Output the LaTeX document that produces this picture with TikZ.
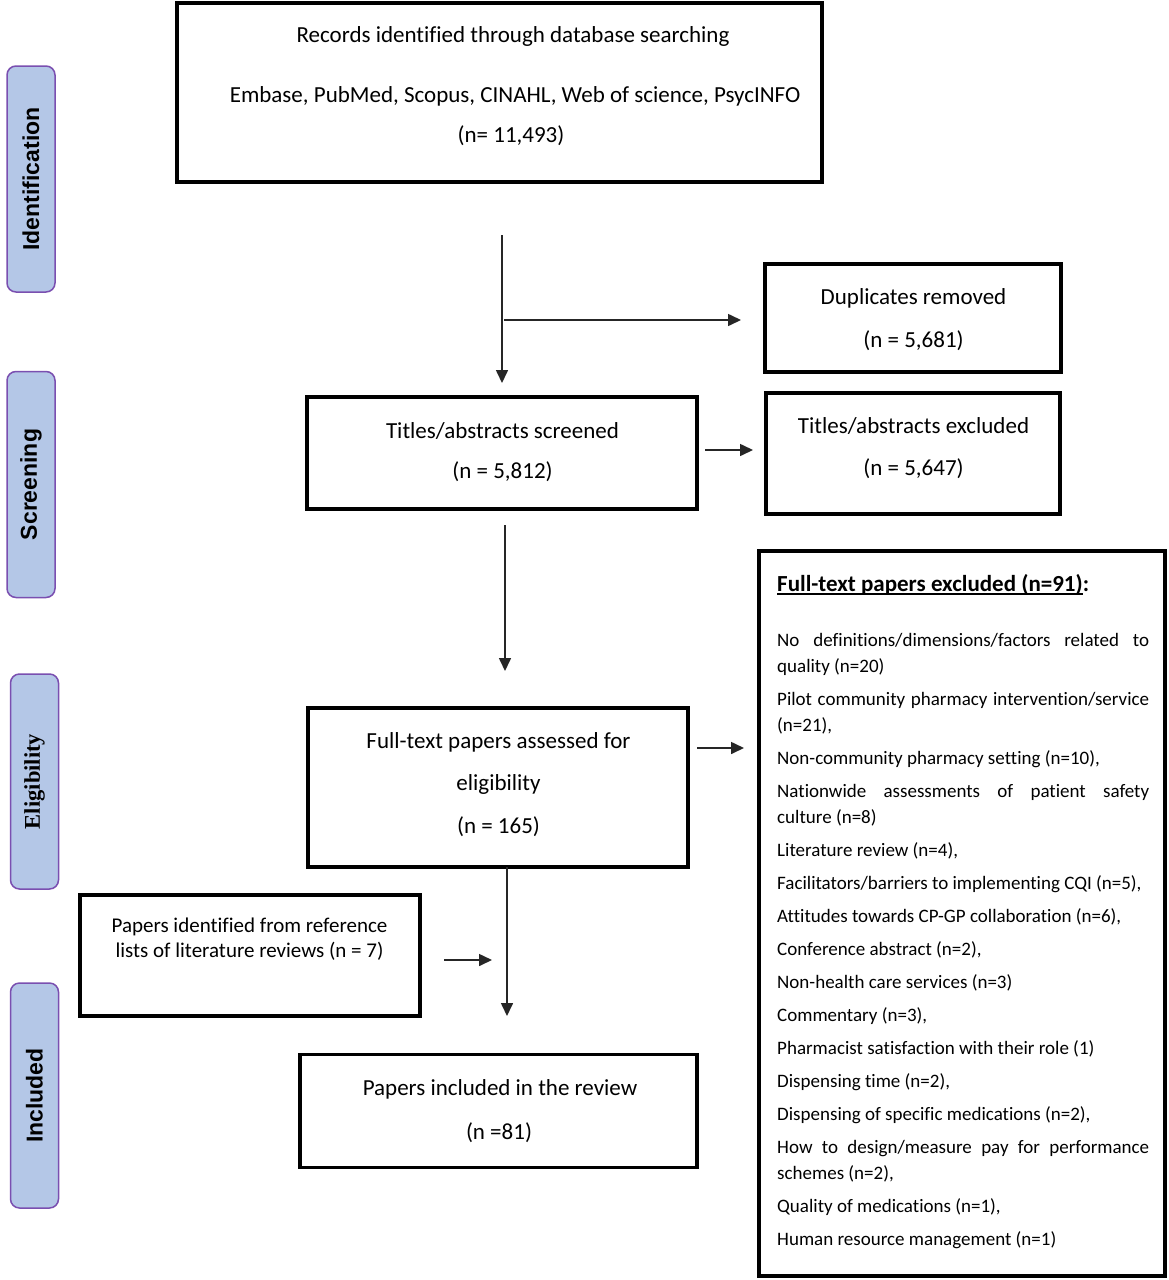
\documentclass[tikz,border=0pt]{standalone}
\usepackage{fontspec}
\setmainfont{Carlito}[Ligatures=NoCommon]
\newfontfamily\sidesans{Liberation Sans}
\newfontfamily\sideserif{Liberation Serif}
\usetikzlibrary{arrows.meta}
\definecolor{sidefill}{HTML}{B4C7E7}
\definecolor{sideline}{HTML}{7A4FB0}
\newcommand\myul[1]{\setbox0\hbox{#1}\rlap{\rule[-3.5pt]{\wd0}{1.6pt}}\box0}
\begin{document}
\begin{tikzpicture}[x=1pt,y=-1pt,
  box/.style={draw=black, line width=3.8pt, inner sep=0},
  txt/.style={inner sep=0, anchor=base, font=\fontsize{23}{28}\selectfont},
  txtsmall/.style={inner sep=0, anchor=base, font=\fontsize{21}{25}\selectfont},
  arr/.style={draw=black!85, line width=1.6pt, -{Triangle[length=13pt,width=12pt]}},
  side/.style={draw=sideline, fill=sidefill, line width=1.5pt, rounded corners=9pt,
    rotate=90, inner sep=0, minimum height=48pt},
  sidefont/.style={font=\sidesans\bfseries\fontsize{23}{28}\selectfont},
  sidefontserif/.style={font=\sideserif\bfseries\fontsize{22.5}{27}\selectfont}
]
\fill[white] (0,0) rectangle (1168,1280);
\useasboundingbox (0,0) rectangle (1168,1280);

% side labels
\node[side, sidefont, minimum width=226pt] (sIdent) at (31,179) {Identification};
\node[side, sidefont, minimum width=226pt] (sScreen) at (31,484.5) {Screening};
\node[side, sidefontserif, minimum width=215pt] (sElig) at (34.5,781.5) {Eligibility};
\node[side, sidefont, minimum width=225pt] (sIncl) at (34.5,1095.5) {Included};

% boxes
\node[box, minimum width=645pt, minimum height=179pt] (rec) at (499.5,92.5) {};
\node[txt] (rec1) at (513,42) {Records identified through database searching};
\node[txt] (rec2) at (515,102) {Embase, PubMed, Scopus, CINAHL, Web of science, PsycINFO};
\node[txt] (rec3) at (511,142) {(n= 11,493)};

\node[box, minimum width=296pt, minimum height=108pt] (dup) at (913,318) {};
\node[txt] (dup1) at (913.5,304) {Duplicates removed};
\node[txt] (dup2) at (913.5,347) {(n = 5,681)};

\node[box, minimum width=390pt, minimum height=112pt] (scr) at (502,453) {};
\node[txt] (scr1) at (502.5,438) {Titles/abstracts screened};
\node[txt] (scr2) at (502.5,478) {(n = 5,812)};

\node[box, minimum width=294pt, minimum height=121pt] (tae) at (913,453.5) {};
\node[txt] (tae1) at (913.5,433) {Titles/abstracts excluded};
\node[txt] (tae2) at (913.5,475) {(n = 5,647)};

\node[box, minimum width=380pt, minimum height=159pt] (ft) at (498,787.5) {};
\node[txt] (ft1) at (498.5,748) {Full-text papers assessed for};
\node[txt] (ft2) at (498.5,790) {eligibility};
\node[txt] (ft3) at (498.5,833) {(n = 165)};

\node[box, minimum width=340pt, minimum height=121pt] (ref) at (250,955.5) {};
\node[txtsmall] (ref1) at (249.5,932) {Papers identified from reference};
\node[txtsmall] (ref2) at (249.5,957) {lists of literature reviews (n = 7)};

\node[box, minimum width=397pt, minimum height=113pt] (inc) at (498.5,1111) {};
\node[txt] (inc1) at (500,1095) {Papers included in the review};
\node[txt] (inc2) at (499,1139) {(n =81)};

\node[box, minimum width=406pt, minimum height=725pt] (exc) at (962,913.5) {};
\node[inner sep=0, anchor=base west, font=\bfseries\fontsize{23}{28}\selectfont] (exch) at (777,591)
  {\myul{Full-text papers excluded (n=91)}:};
\node[inner sep=0, anchor=north west, text width=372pt, align=justify,
  font=\fontsize{19}{26}\selectfont] (excl) at (777,628) {%
\setlength{\parskip}{7pt}\setlength{\parindent}{0pt}\tolerance=10000\hbadness=10000%
\strut No definitions/dimensions/factors related to\linebreak quality (n=20)\par
Pilot community pharmacy intervention/service\linebreak (n=21),\par
Non-community pharmacy setting (n=10),\par
Nationwide assessments of patient safety\linebreak culture (n=8)\par
Literature review (n=4),\par
Facilitators/barriers to implementing CQI (n=5),\par
Attitudes towards CP-GP collaboration (n=6),\par
Conference abstract (n=2),\par
Non-health care services (n=3)\par
Commentary (n=3),\par
Pharmacist satisfaction with their role (1)\par
Dispensing time (n=2),\par
Dispensing of specific medications (n=2),\par
How to design/measure pay for performance\linebreak schemes (n=2),\par
Quality of medications (n=1),\par
Human resource management (n=1)};

% arrow end points
\coordinate (a1s) at (502,235);  \coordinate (a1e) at (502,383);
\coordinate (a2s) at (504,320);  \coordinate (a2e) at (741,320);
\coordinate (a3s) at (705,450);  \coordinate (a3e) at (753,450);
\coordinate (a4s) at (505,525);  \coordinate (a4e) at (505,671);
\coordinate (a5s) at (697,748);  \coordinate (a5e) at (744,748);
\coordinate (a6s) at (507,867);  \coordinate (a6e) at (507,1016);
\coordinate (a7s) at (444,960);  \coordinate (a7e) at (492,960);

\draw[arr] (a1s) -- (a1e);
\draw[arr] (a2s) -- (a2e);
\draw[arr] (a3s) -- (a3e);
\draw[arr] (a4s) -- (a4e);
\draw[arr] (a5s) -- (a5e);
\draw[arr] (a6s) -- (a6e);
\draw[arr] (a7s) -- (a7e);
\end{tikzpicture}
\end{document}
